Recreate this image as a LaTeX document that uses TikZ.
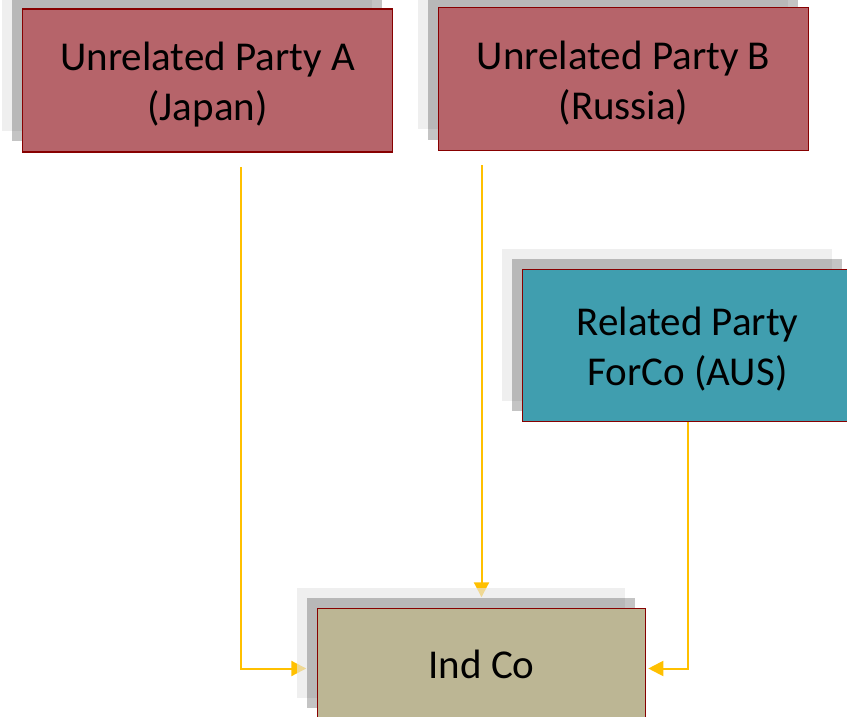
\documentclass[tikz,border=0pt]{standalone}
\usepackage{fontspec}
\setmainfont{Carlito}
\usetikzlibrary{arrows.meta,calc}
\definecolor{partyred}{RGB}{182,100,106}
\definecolor{partyteal}{RGB}{64,158,175}
\definecolor{indtan}{RGB}{188,182,148}
\definecolor{edgered}{RGB}{135,0,0}
\definecolor{flow}{RGB}{255,192,0}
\pgfdeclarelayer{conn}
\pgfdeclarelayer{shade}
\pgfsetlayers{conn,shade,main}
\tikzset{
  entity/.style={draw=edgered, line width=1.6pt, rectangle, inner sep=0pt},
  entitytext/.style={inner sep=0pt, align=center, text=black, font=\fontsize{41}{50}\selectfont},
  shadelight/.style={rectangle, inner sep=0pt, fill={rgb,255:red,230;green,230;blue,230}, fill opacity=0.64},
  shadedark/.style={rectangle, inner sep=0pt, fill=black, fill opacity=0.23},
  flowline/.style={draw=flow, line width=2pt, -{Triangle[length=15pt,width=15pt]}},
}
\newcommand{\entitywithshade}[7]{%
  % #1 name, #2 centre, #3 width, #4 height, #5 fill, #6 text, #7 text drop
  \node[entity, fill=#5, minimum width=#3, minimum height=#4] (#1) at #2 {};
  \node[entitytext] (#1text) at ($(#1)+(0,#7)$) {#6};
  \begin{pgfonlayer}{shade}
    \node[shadelight, minimum width=#3, minimum height=#4] (#1light) at ($(#1)+(-21,-21)$) {};
    \node[shadedark, minimum width=#3, minimum height=#4] (#1dark) at ($(#1)+(-11,-11)$) {};
  \end{pgfonlayer}}
\begin{document}
\begin{tikzpicture}[x=1pt,y=-1pt]
  \useasboundingbox (0,0) rectangle (847,717);

  \entitywithshade{A}{(207.5,80.5)}{370pt}{143pt}{partyred}{Unrelated Party A\\(Japan)}{4}
  \entitywithshade{B}{(623.5,79)}{370pt}{143pt}{partyred}{Unrelated Party B\\(Russia)}{4}
  \entitywithshade{R}{(687.5,345.5)}{330pt}{152pt}{partyteal}{Related Party\\ForCo (AUS)}{4}
  \entitywithshade{I}{(481.5,663.5)}{328pt}{110pt}{indtan}{Ind Co}{1}

  % flow connectors into Ind Co
  \coordinate (aStart) at ($(A.south)+(33.5,14)$);
  \coordinate (aEnd) at ($(Idark.west)+(0,16)$);
  \coordinate (bStart) at ($(B.south -| I.north)+(0,14)$);
  \coordinate (bEnd) at (I.north |- Idark.north);
  \coordinate (rEnd) at ($(I.east)+(2,5)$);

  \begin{pgfonlayer}{conn}
    \draw[flowline] (aStart) |- (aEnd);
    \draw[flowline] (bStart) -- (bEnd);
    \draw[flowline] (R.south) |- (rEnd);
  \end{pgfonlayer}
\end{tikzpicture}
\end{document}
